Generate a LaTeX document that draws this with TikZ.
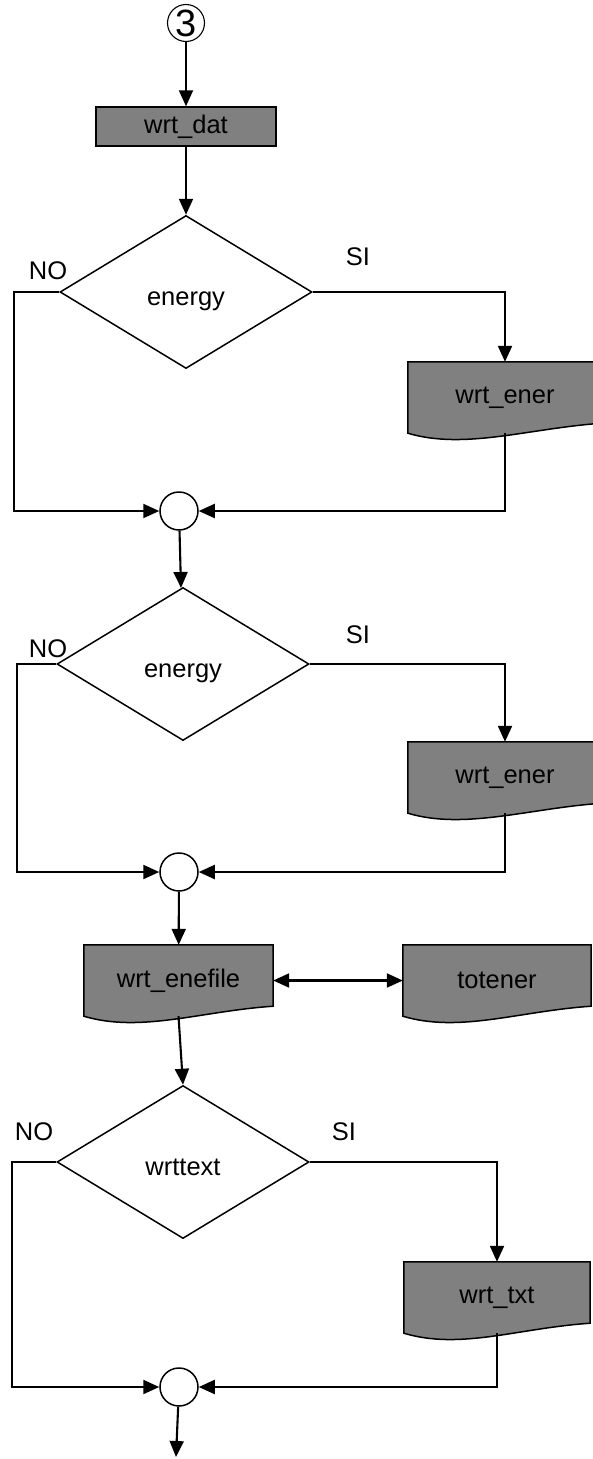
\documentclass[tikz,border=0pt]{standalone}
\usepackage{fontspec}
\setmainfont{Liberation Sans}
\usetikzlibrary{shapes.geometric,arrows.meta,calc,backgrounds}
\definecolor{boxgray}{RGB}{128,128,128}
\begin{document}
\begin{tikzpicture}[x=1pt,y=-1pt,>={Triangle[length=16pt,width=14pt]},
  font=\fontsize{25.5}{30}\selectfont,
  flow/.style={line width=2.1pt,->},
  procbox/.style={draw,fill=boxgray,line width=1.5pt,minimum height=39pt,inner sep=0pt},
  docbox/.style={minimum height=71pt,inner sep=0pt},
  docshape/.style={draw,fill=boxgray,line width=1.5pt},
  decision/.style={diamond,draw,line width=1.5pt,minimum width=252pt,minimum height=153pt,
    inner sep=0pt,text height=26pt,text depth=0pt},
  junction/.style={circle,draw,line width=1.5pt,minimum size=38pt,inner sep=0pt},
  numcircle/.style={circle,draw,line width=1.1pt,minimum size=37pt,inner sep=0pt,
    font=\fontsize{38}{42}\selectfont}]
\useasboundingbox (0,0) rectangle (592,1459);

\node[numcircle] (c3) at (186,23) {3};
\node[procbox,minimum width=180pt] (dat) at (186,126.5) {wrt\_dat};
\node[decision] (d1) at (186,292) {energy};
\node[docbox,minimum width=194pt] (e1) at (505,397.5) {wrt\_ener};
\node[junction] (j1) at (179,511) {};
\node[decision] (d2) at (183,664) {energy};
\node[docbox,minimum width=194pt] (e2) at (505,777.5) {wrt\_ener};
\node[junction] (j2) at (179,872) {};
\node[docbox,minimum width=189pt] (ef) at (178.5,980.5) {wrt\_enefile};
\node[docbox,minimum width=188pt] (tot) at (497,980.5) {totener};
\node[decision] (d3) at (183,1162) {wrttext};
\node[docbox,minimum width=186pt] (txt) at (497,1297.5) {wrt\_txt};
\node[junction] (j3) at (179,1387) {};

\node (no1) at (48,271) {NO};
\node (si1) at (358,257) {SI};
\node (no2) at (48,649) {NO};
\node (si2) at (358,635) {SI};
\node (no3) at (34,1132) {NO};
\node (si3) at (344,1132) {SI};

\coordinate (l1) at (14,511);
\coordinate (l2) at (17,872);
\coordinate (l3) at (12,1387);
\coordinate (out) at (176,1457);

\begin{scope}[on background layer]
\foreach \n in {e1,e2,ef,tot,txt}
  \filldraw[docshape] (\n.south west) -- (\n.north west) -- (\n.north east)
    -- ($(\n.south east)+(0,-10)$)
    .. controls ($(\n.south east)+(-73,-5)$) and ($(\n.south west)+(57,17)$) .. (\n.south west)
    -- cycle;
\end{scope}

\draw[flow] (c3) -- (dat);
\draw[flow] (dat) -- (d1);
\draw[flow] (d1.west) -| (l1) -- (j1);
\draw[flow] (d1.east) -| (e1.north);
\draw[flow] (e1.south) |- (j1);
\draw[flow] (j1) -- (d2);

\draw[flow] (d2.west) -| (l2) -- (j2);
\draw[flow] (d2.east) -| (e2.north);
\draw[flow] (e2.south) |- (j2);
\draw[flow] (j2) -- (ef);
\draw[flow,<->] (ef) -- (tot);
\draw[flow] (ef.south) -- (d3.north);

\draw[flow] (d3.west) -| (l3) -- (j3);
\draw[flow] (d3.east) -| (txt.north);
\draw[flow] (txt.south) |- (j3);
\draw[flow] (j3) -- (out);
\end{tikzpicture}
\end{document}
